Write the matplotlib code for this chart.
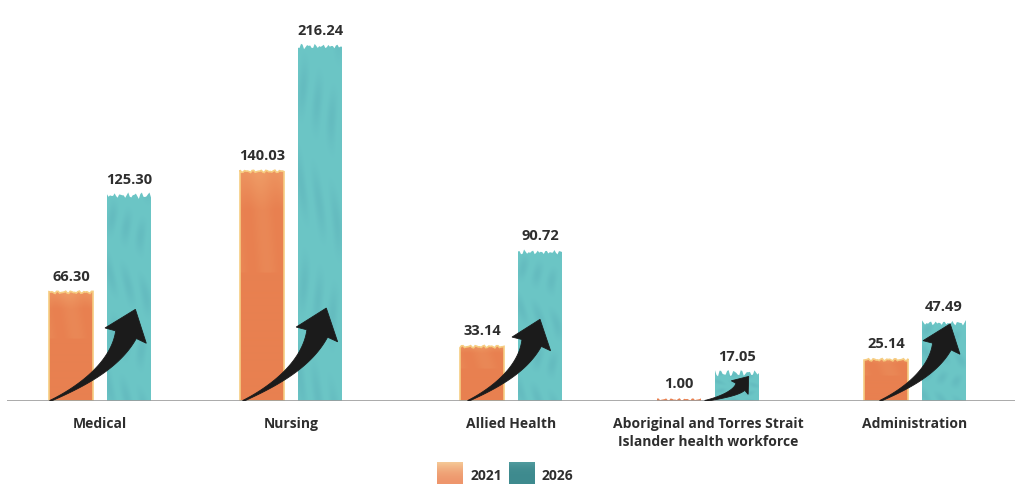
import numpy as np
import matplotlib
matplotlib.use("Agg")
import matplotlib.pyplot as plt
from matplotlib.patches import Polygon

# --- data -------------------------------------------------------------
categories = ["Medical", "Nursing", "Allied Health",
              "Aboriginal and Torres Strait\nIslander health workforce",
              "Administration"]
values_2021 = [66.30, 140.03, 33.14, 1.00, 25.14]
values_2026 = [125.30, 216.24, 90.72, 17.05, 47.49]
series_labels = ["2021", "2026"]

# --- layout (x in pixel-like units) -----------------------------------
group_x = [100, 291, 511, 708, 915]
bar_offset = 29
bar_w = 44
arrow_tail_dx = [-50, -48, -43, -3, -35]
arrow_tip_dx = [36, 36, 29, 37, 35]
arrow_rise = [56, 57, 49, 12, 46]

W, H = 1018, 485
BASE_PX = 402
PY = 1.64                    # pixels per value unit
YMAX = BASE_PX / PY

FONT = ["Open Sans", "DejaVu Sans"]
TXT = "#2e2e2e"

fig = plt.figure(figsize=(W / 100, H / 100), dpi=100)
ax = fig.add_axes([7 / W, (H - BASE_PX) / H, 1008 / W, BASE_PX / H])
ax.axis("off")


def mix(c1, c2, t):
    t = np.clip(t, 0, 1)[..., None]
    return np.asarray(c1) * (1 - t) + np.asarray(c2) * t


def textured_bar(xc, h, kind):
    x0, x1 = xc - bar_w / 2, xc + bar_w / 2
    xs = np.linspace(x0, x1, 30)
    if kind == "a":
        rag = (0.8 * np.sin(0.9 * xs) + 0.6 * np.sin(2.7 * xs + 0.5)) / PY
    else:
        rag = (1.8 * np.sin(0.9 * xs) + 1.3 * np.sin(2.7 * xs + 0.5)
               + 1.0 * np.sin(5.1 * xs)) / PY
    top = h + rag
    verts = [(x0, 0)] + list(zip(xs, top)) + [(x1, 0)]
    edge = "#F6CD82" if (kind == "a" and h * PY > 4) else "none"
    poly = Polygon(verts, closed=True, facecolor="none", edgecolor=edge,
                   lw=1.2, zorder=3)
    ax.add_patch(poly)

    ny = max(int(h * PY) + 6, 4)
    X, Y = np.meshgrid(np.linspace(0, 1, 44), np.linspace(0, 1, ny))
    if kind == "a":
        base = np.array([232, 128, 80]) / 255
        light = np.array([240, 160, 105]) / 255
        t = 0.35 * (Y > 0.82) * (Y - 0.82) / 0.18 * 2 \
            + 0.25 * (0.5 + 0.5 * np.sin(X * 9 + Y * 4)) * (Y > 0.55)
        img = mix(base, light, t)
    else:
        base = np.array([108, 198, 198]) / 255
        dark = np.array([92, 176, 184]) / 255
        t = 0.45 * (0.5 + 0.5 * np.sin(X * 17 + np.sin(Y * 11) * 1.5)) \
            * (0.5 + 0.5 * np.sin(Y * 23 + X * 3))
        img = mix(base, dark, t)
    im = ax.imshow(img, extent=(x0, x1, 0, h + 4 / PY), origin="lower",
                   aspect="auto", zorder=2, interpolation="bilinear")
    im.set_clip_path(poly)


def arrow(tail_x, tip_x, rise):
    # curved brush arrow, built in pixel space (y up) then mapped to data
    sx = (tip_x - tail_x) / 86.0
    sy = rise * PY / 90.0
    ws = min(1.0, 0.35 + 0.65 * sy)
    p0 = np.array([0.0, 0.0])
    p1 = np.array([62 * sx, 28 * sy])
    p2 = np.array([76 * sx, 65 * sy])
    t = np.linspace(0, 1, 40)[:, None]
    B = (1 - t) ** 2 * p0 + 2 * (1 - t) * t * p1 + t ** 2 * p2
    D = 2 * (1 - t) * (p1 - p0) + 2 * t * (p2 - p1)
    D = D / np.linalg.norm(D, axis=1, keepdims=True)
    N = np.column_stack([-D[:, 1], D[:, 0]])
    w = (0.6 + 10.4 * ws * t[:, 0] ** 1.4)[:, None]
    left, right = B + N * w, B - N * w
    d_end, n_end = D[-1], N[-1]
    wing_l = p2 + n_end * 22 * ws - d_end
    wing_r = p2 - n_end * 22 * ws - d_end
    tip = p2 + d_end * 27 * ws
    pts = np.vstack([left, wing_l, tip, wing_r, right[::-1]])
    xd = tail_x + pts[:, 0]
    yd = pts[:, 1] / PY
    ax.add_patch(Polygon(np.column_stack([xd, yd]), closed=True,
                         facecolor="#1b1b1b", edgecolor="#1b1b1b",
                         lw=0.6, zorder=5))


for i, g in enumerate(group_x):
    xa, xb = g - bar_offset, g + bar_offset
    textured_bar(xa, values_2021[i], "a")
    textured_bar(xb, values_2026[i], "b")
    for xc, v in ((xa, values_2021[i]), (xb, values_2026[i])):
        ax.annotate(f"{v:.2f}", (xc, v), xytext=(0, 7),
                    textcoords="offset points", ha="center", va="bottom",
                    fontsize=10.5, fontweight="bold", family=FONT,
                    color=TXT, zorder=6)
    arrow(g + arrow_tail_dx[i], g + arrow_tip_dx[i], arrow_rise[i])
    ax.annotate(categories[i], (g, 0), xytext=(0, -11),
                textcoords="offset points", ha="center", va="top",
                fontsize=10, fontweight="bold", family=FONT,
                color=TXT, linespacing=1.3)

ax.axhline(0, color="#9c9c9c", lw=1.2, zorder=4)
ax.set_xlim(7, 1015)
ax.set_ylim(0, YMAX)


# --- legend -----------------------------------------------------------
def fig_px(x, y):
    return x / W, 1 - y / H


leg_items = [(437, 471, series_labels[0]), (509, 542, series_labels[1])]
for k, (px, tx, lab) in enumerate(leg_items):
    x0, y0 = fig_px(px, 486)
    if k == 0:
        grad = mix(np.array([238, 150, 108]) / 255,
                   np.array([245, 200, 150]) / 255,
                   np.linspace(0, 1, 24)[:, None] ** 2 * np.ones((24, 26)))
    else:
        grad = mix(np.array([62, 138, 142]) / 255,
                   np.array([80, 155, 158]) / 255,
                   np.linspace(0, 1, 24)[:, None] ** 4 * np.ones((24, 26)))
    lax = fig.add_axes([x0, y0, 26 / W, 23 / H])
    lax.imshow(grad, origin="lower", aspect="auto", extent=(0, 1, 0, 1))
    lax.axis("off")
    fx, fy = fig_px(tx, 476)
    fig.text(fx, fy, lab, ha="left", va="center", fontsize=10,
             fontweight="bold", family=FONT, color=TXT)

fig.savefig("out.png", dpi=100)
